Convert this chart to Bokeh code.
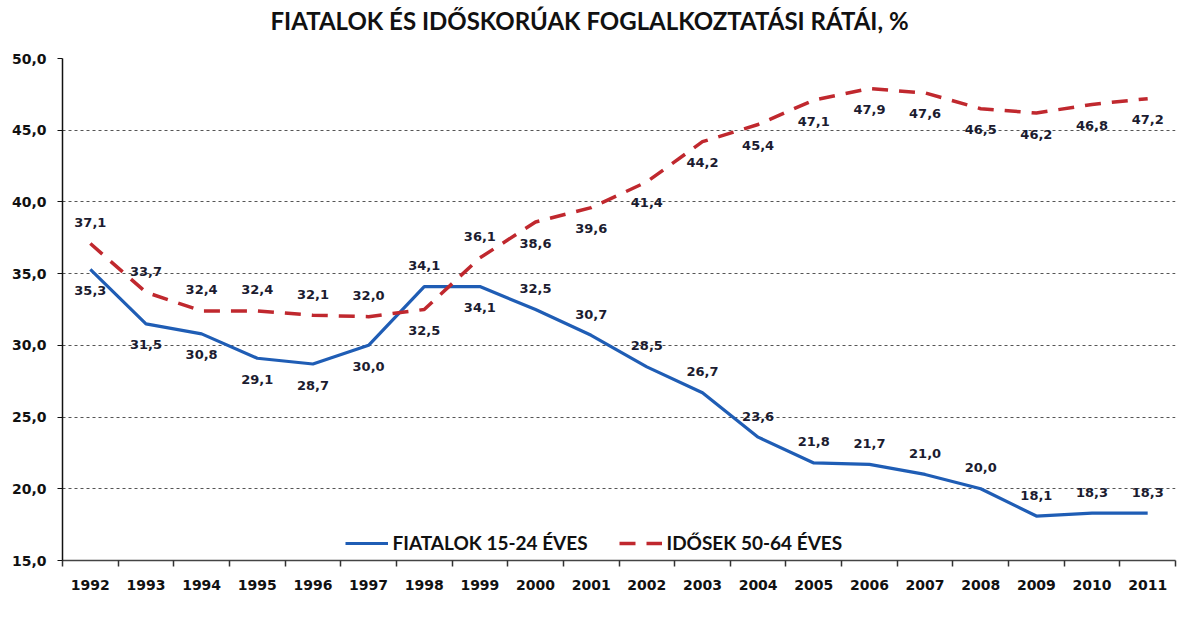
from bokeh.plotting import figure
from bokeh.models import (ColumnDataSource, FixedTicker, Title, Legend, LegendItem)
from bokeh.core.properties import value
from bokeh.embed import file_html
from bokeh.resources import INLINE

# ---- data ----
years = ["1992", "1993", "1994", "1995", "1996", "1997", "1998", "1999", "2000", "2001",
         "2002", "2003", "2004", "2005", "2006", "2007", "2008", "2009", "2010", "2011"]
young = [35.3, 31.5, 30.8, 29.1, 28.7, 30.0, 34.1, 34.1, 32.5, 30.7,
         28.5, 26.7, 23.6, 21.8, 21.7, 21.0, 20.0, 18.1, 18.3, 18.3]
older = [37.1, 33.7, 32.4, 32.4, 32.1, 32.0, 32.5, 36.1, 38.6, 39.6,
         41.4, 44.2, 45.4, 47.1, 47.9, 47.6, 46.5, 46.2, 46.8, 47.2]
y_ticks = [15, 20, 25, 30, 35, 40, 45, 50]
y_tick_labels = ["15,0", "20,0", "25,0", "30,0", "35,0", "40,0", "45,0", "50,0"]
title_text = "FIATALOK ÉS IDŐSKORÚAK FOGLALKOZTATÁSI RÁTÁI, %"
name_young = "FIATALOK 15-24 ÉVES"
name_older = "IDŐSEK 50-64 ÉVES"

# ---- style ----
BLUE = "#1f5db5"
RED = "#c0282e"
LABEL_COLOR = "#1c1c30"
NUM_FONT_NAME = "DejaVu Sans"
NUM_FONT = value(NUM_FONT_NAME)
OFF = 21

idx = list(range(len(years)))


def fmt(v):
    return f"{v:.1f}".replace(".", ",")


# label sides: blue above its line after 1999 or where it lies above the red one
young_up = [(int(yr) >= 2000) or (a > b) for yr, a, b in zip(years, young, older)]
young_off = [-OFF if up else OFF for up in young_up]
older_off = [OFF if up else -OFF for up in young_up]

src_y = ColumnDataSource(dict(x=idx, y=young, t=[fmt(v) for v in young], dy=young_off))
src_o = ColumnDataSource(dict(x=idx, y=older, t=[fmt(v) for v in older], dy=older_off))

p = figure(frame_width=1113, frame_height=502, output_backend="svg", toolbar_location=None,
           x_range=(-0.5, len(years) - 0.5), y_range=(15, 50), title=None,
           min_border_left=62, min_border_right=15, min_border_top=58, min_border_bottom=0)
p.outline_line_color = None
p.background_fill_color = "white"
p.border_fill_color = "white"

# spacer between frame and title, then the title itself
p.add_layout(Title(text=" ", text_font_size="10px", standoff=11), "above")
p.add_layout(Title(text=title_text, align="left", offset=208, text_font="Lato",
                   text_font_style="bold", text_font_size="24px", text_color="#111111",
                   standoff=0), "above")

# axes
p.xaxis.ticker = FixedTicker(ticks=idx, minor_ticks=[i - 0.5 for i in range(len(years) + 1)])
p.xaxis.major_label_overrides = {i: y for i, y in zip(idx, years)}
p.xaxis.major_tick_line_color = None
p.xaxis.minor_tick_in = 0
p.xaxis.minor_tick_out = 6
p.xaxis.minor_tick_line_color = "#333333"
p.xaxis.minor_tick_line_width = 1.5
p.xaxis.axis_line_color = "#444444"
p.xaxis.axis_line_width = 1.5
p.xaxis.major_label_text_font = NUM_FONT_NAME
p.xaxis.major_label_text_font_style = "bold"
p.xaxis.major_label_text_font_size = "14px"
p.xaxis.major_label_text_color = "#111111"
p.xaxis.major_label_standoff = 13

p.yaxis.ticker = FixedTicker(ticks=y_ticks)
p.yaxis.major_label_overrides = {t: l for t, l in zip(y_ticks, y_tick_labels)}
p.yaxis.minor_tick_line_color = None
p.yaxis.major_tick_in = 0
p.yaxis.major_tick_out = 5
p.yaxis.major_tick_line_color = "#111111"
p.yaxis.axis_line_color = "#111111"
p.yaxis.axis_line_width = 1.5
p.yaxis.major_label_text_font = NUM_FONT_NAME
p.yaxis.major_label_text_font_style = "bold"
p.yaxis.major_label_text_font_size = "14px"
p.yaxis.major_label_text_color = "#111111"
p.yaxis.major_label_standoff = 11

p.xgrid.grid_line_color = None
p.ygrid.grid_line_color = "#555555"
p.ygrid.grid_line_dash = "3 3"
p.ygrid.grid_line_width = 1

# lines
r_y = p.line("x", "y", source=src_y, line_color=BLUE, line_width=3.2)
r_o = p.line("x", "y", source=src_o, line_color=RED, line_width=3.5, line_dash="16 11")

# data labels
for src in (src_y, src_o):
    p.text("x", "y", text="t", source=src, y_offset="dy",
           text_align="center", text_baseline="middle",
           text_font=NUM_FONT, text_font_style="bold", text_font_size="13px",
           text_color=LABEL_COLOR)

# legend (kept inside the plot area, bottom centre)
legend = Legend(items=[LegendItem(label=name_young, renderers=[r_y]),
                       LegendItem(label=name_older, renderers=[r_o])],
                orientation="horizontal", location="bottom_center",
                border_line_color=None, background_fill_alpha=0,
                label_text_font="Lato", label_text_font_style="bold",
                label_text_font_size="19px", label_text_color="#111111",
                glyph_width=43, label_width=226, spacing=-12, padding=0, margin=6,
                label_standoff=5)
p.add_layout(legend)

open("out.html", "w").write(file_html(p, INLINE))
